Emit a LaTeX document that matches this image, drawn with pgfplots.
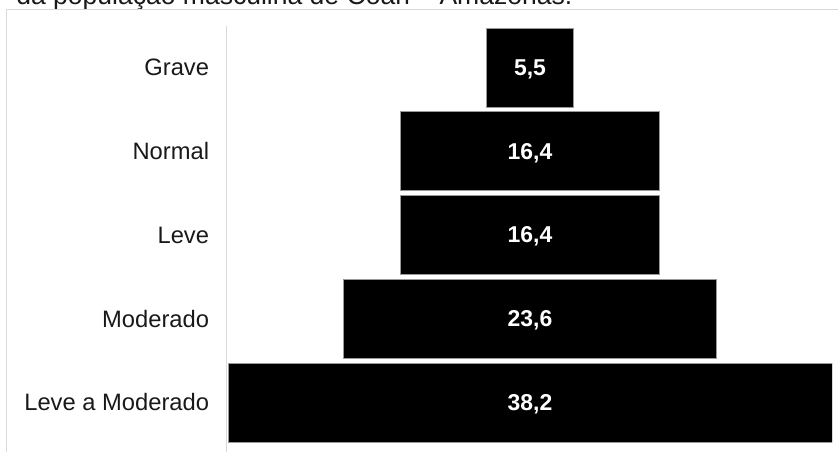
\documentclass[border=0pt]{standalone}
\usepackage{fontspec}
\setmainfont{Liberation Sans}
\usepackage{pgfplots}
\pgfplotsset{compat=1.18}
\usepackage{pgfplotstable}

\pgfplotstableread{
y off val ctr lab
0 16.35 5.5 19.1 {5,5}
1 10.9 16.4 19.1 {16,4}
2 10.9 16.4 19.1 {16,4}
3 7.3 23.6 19.1 {23,6}
4 0 38.2 19.1 {38,2}
}\funnel

\pgfplotsset{
  funnelgeom/.style={
    at={(171pt,5.72pt)}, anchor=south west,
    scale only axis, width=453pt, height=314.06pt,
    xmin=0, xmax=38.2, ymin=-0.5, ymax=4.5, y dir=reverse,
  }
}

\begin{document}
\begin{tikzpicture}
\useasboundingbox (0,0) rectangle (628.5pt,339pt);
\clip (0,0) rectangle (628.5pt,339pt);
\node[anchor=base west, font=\fontsize{19.9}{24}\selectfont, text=black!90, inner sep=0pt]
  at (12pt,335.25pt) {da população masculina de Coari – Amazonas.};
\draw[black!15, line width=1pt] (4.9pt,0) -- (4.9pt,331.9pt) -- (628.5pt,331.9pt);
\draw[black!15, line width=1.2pt] (170pt,0) -- (170pt,319.5pt);
\begin{axis}[
  funnelgeom,
  xbar stacked, bar width=0.943,
  axis line style={draw=none},
  xtick=\empty,
  ytick={0,1,2,3,4},
  yticklabels={Grave,Normal,Leve,Moderado,Leve a Moderado},
  major tick length=0pt,
  yticklabel style={inner sep=0pt, xshift=-14pt, text=black!90,
    font=\fontsize{17.8}{21}\selectfont},
]
\addplot[draw=none, fill=none] table[x=off, y=y] {\funnel};
\addplot[fill=black, draw=black!40, line width=0.6pt] table[x=val, y=y] {\funnel};
\end{axis}
\begin{axis}[funnelgeom, hide axis]
\addplot[only marks, mark=*, mark options={draw=none, fill=none},
  nodes near coords, point meta=explicit symbolic,
  nodes near coords style={anchor=center, text=white, yshift=-1.2pt,
    font=\bfseries\fontsize{17.2}{20}\selectfont}]
  table[x=ctr, y=y, meta=lab] {\funnel};
\end{axis}
\end{tikzpicture}
\end{document}
